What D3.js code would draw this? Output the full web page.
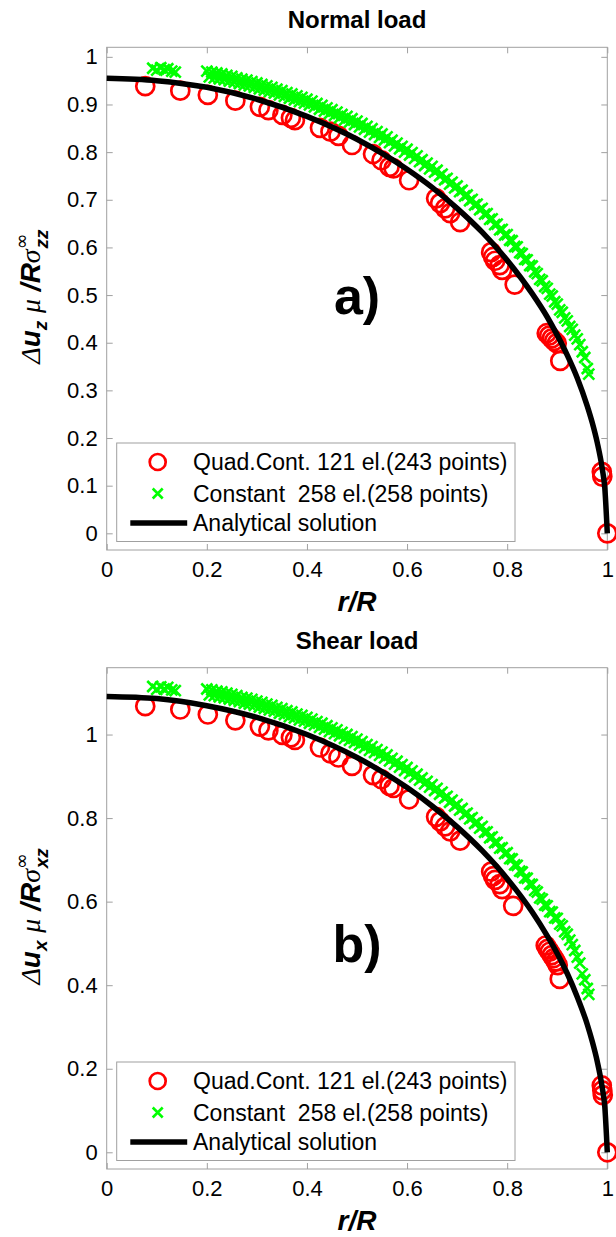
<!DOCTYPE html>
<html><head><meta charset="utf-8">
<script src="https://cdn.jsdelivr.net/npm/d3@7"></script>
<style>
html,body{margin:0;padding:0;background:#fff;}
svg{display:block;font-family:"Liberation Sans",Arial,sans-serif;}
</style></head>
<body>
<svg id="chart" width="616" height="1237"></svg>
<script>
// ---------------- DATA ----------------
const xTicks = [0, 0.2, 0.4, 0.6, 0.8, 1];
const normalYTicks = [0, 0.1, 0.2, 0.3, 0.4, 0.5, 0.6, 0.7, 0.8, 0.9, 1];
const shearYTicks = [0, 0.2, 0.4, 0.6, 0.8, 1];
const legendLabels = ["Quad.Cont. 121 el.(243 points)", "Constant  258 el.(258 points)", "Analytical solution"];
const panelTitles = ["Normal load", "Shear load"];
const panelTags = ["a)", "b)"];

// Analytical solution
const normalAnalytic = [[0,0.955],[0.1,0.950],[0.2,0.936],[0.3,0.911],[0.4,0.875],[0.5,0.827],[0.6,0.764],[0.65,0.726],[0.7,0.682],[0.75,0.632],[0.8,0.573],[0.85,0.503],[0.88,0.454],[0.9,0.416],[0.92,0.374],[0.94,0.326],[0.96,0.267],[0.97,0.232],[0.98,0.190],[0.99,0.135],[0.995,0.095],[1.0,0]];
const shearAnalytic = [[0,1.091],[0.1,1.086],[0.2,1.069],[0.3,1.041],[0.4,1.000],[0.5,0.945],[0.6,0.873],[0.65,0.829],[0.7,0.779],[0.75,0.722],[0.8,0.655],[0.85,0.575],[0.88,0.518],[0.9,0.476],[0.92,0.428],[0.94,0.372],[0.96,0.306],[0.97,0.265],[0.98,0.217],[0.99,0.154],[0.995,0.109],[1.0,0]];

// Quad.Cont. (red circles)
const normalQuad = [[0.077,0.9385],[0.147,0.929],[0.202,0.920],[0.257,0.908],[0.306,0.895],[0.323,0.888],[0.351,0.878],[0.368,0.872],[0.376,0.867],[0.426,0.851],[0.447,0.843],[0.463,0.834],[0.490,0.815],[0.532,0.796],[0.549,0.783],[0.565,0.769],[0.573,0.766],[0.604,0.741],[0.658,0.703],[0.666,0.693],[0.676,0.682],[0.686,0.672],[0.706,0.653],[0.768,0.590],[0.772,0.580],[0.776,0.572],[0.785,0.563],[0.790,0.553],[0.815,0.522],[0.879,0.420],[0.884,0.415],[0.889,0.409],[0.894,0.404],[0.899,0.399],[0.906,0.362],[0.989,0.129],[0.990,0.119],[1.0,0]];
const shearQuad = [[0.077,1.068],[0.147,1.060],[0.202,1.048],[0.257,1.034],[0.306,1.019],[0.323,1.010],[0.351,0.999],[0.368,0.993],[0.376,0.987],[0.426,0.969],[0.447,0.955],[0.463,0.945],[0.490,0.925],[0.532,0.903],[0.549,0.893],[0.565,0.877],[0.573,0.872],[0.604,0.845],[0.658,0.803],[0.666,0.792],[0.676,0.780],[0.686,0.768],[0.706,0.746],[0.768,0.672],[0.772,0.661],[0.776,0.652],[0.785,0.642],[0.790,0.630],[0.812,0.590],[0.877,0.495],[0.881,0.487],[0.885,0.480],[0.889,0.472],[0.893,0.465],[0.897,0.457],[0.901,0.448],[0.905,0.415],[0.989,0.160],[0.990,0.148],[0.991,0.137],[1.0,0]];

// Constant (green crosses)
const normalConst = [[0.092,0.976],[0.100,0.972],[0.108,0.977],[0.115,0.973],[0.122,0.975],[0.130,0.970],[0.137,0.968],
[0.20,0.970],[0.205,0.958],[0.21,0.968],[0.215,0.956],[0.22,0.966],[0.225,0.954],[0.23,0.964],[0.235,0.952],[0.24,0.961],[0.245,0.949],
[0.25,0.959],[0.255,0.947],[0.26,0.956],[0.265,0.944],[0.27,0.953],[0.275,0.941],[0.28,0.951],[0.285,0.939],[0.29,0.948],[0.295,0.936],
[0.30,0.945],[0.305,0.933],[0.31,0.942],[0.315,0.930],[0.32,0.939],[0.325,0.927],[0.33,0.936],[0.335,0.924],[0.34,0.932],[0.345,0.920],
[0.35,0.929],[0.355,0.917],[0.36,0.925],[0.365,0.913],[0.37,0.922],[0.375,0.910],[0.38,0.918],[0.385,0.906],[0.39,0.915],[0.395,0.903],
[0.40,0.911],[0.405,0.899],[0.41,0.907],[0.415,0.895],[0.42,0.902],[0.425,0.890],[0.43,0.898],[0.435,0.886],[0.44,0.893],[0.445,0.881],
[0.45,0.889],[0.455,0.877],[0.46,0.884],[0.465,0.872],[0.47,0.879],[0.475,0.867],[0.48,0.875],[0.485,0.863],[0.49,0.870],[0.495,0.858],
[0.50,0.865],[0.505,0.853],[0.51,0.860],[0.515,0.848],[0.52,0.854],[0.525,0.842],[0.53,0.849],[0.535,0.837],[0.54,0.843],[0.545,0.831],
[0.55,0.838],[0.555,0.826],[0.56,0.832],[0.565,0.820],[0.57,0.825],[0.575,0.813],[0.58,0.819],[0.585,0.807],[0.59,0.812],[0.595,0.800],
[0.60,0.806],[0.605,0.794],[0.61,0.799],[0.615,0.787],[0.62,0.792],[0.625,0.780],[0.63,0.784],[0.635,0.772],[0.64,0.777],[0.645,0.765],
[0.65,0.770],[0.655,0.758],[0.66,0.762],[0.665,0.750],[0.67,0.754],[0.675,0.742],[0.68,0.745],[0.685,0.733],[0.69,0.737],[0.695,0.725],
[0.70,0.729],[0.705,0.717],[0.71,0.720],[0.715,0.708],[0.72,0.710],[0.725,0.698],[0.73,0.701],[0.735,0.689],[0.74,0.691],[0.745,0.679],
[0.75,0.682],[0.755,0.670],[0.76,0.671],[0.765,0.659],[0.77,0.660],[0.775,0.648],[0.78,0.649],[0.785,0.637],[0.79,0.638],[0.795,0.626],
[0.80,0.627],[0.805,0.615],[0.81,0.614],[0.815,0.602],[0.82,0.601],[0.825,0.589],[0.83,0.587],[0.835,0.575],[0.84,0.574],[0.845,0.562],
[0.85,0.561],[0.855,0.549],[0.86,0.545],[0.865,0.533],[0.87,0.530],[0.875,0.518],[0.88,0.514],[0.885,0.502],[0.89,0.498],[0.895,0.486],
[0.90,0.481],[0.905,0.469],[0.91,0.464],[0.915,0.452],[0.92,0.446],[0.925,0.434],[0.93,0.428],[0.935,0.416],[0.94,0.408],[0.945,0.396],
[0.95,0.381],[0.955,0.369],[0.96,0.346],[0.963,0.334]];
const shearConst = [[0.092,1.115],[0.100,1.108],[0.108,1.114],[0.115,1.109],[0.122,1.113],[0.130,1.107],[0.137,1.105],
[0.20,1.109],[0.205,1.095],[0.21,1.107],[0.215,1.093],[0.22,1.104],[0.225,1.090],[0.23,1.102],[0.235,1.088],[0.24,1.099],[0.245,1.085],
[0.25,1.096],[0.255,1.082],[0.26,1.093],[0.265,1.079],[0.27,1.089],[0.275,1.075],[0.28,1.087],[0.285,1.073],[0.29,1.084],[0.295,1.070],
[0.30,1.080],[0.305,1.066],[0.31,1.077],[0.315,1.063],[0.32,1.073],[0.325,1.059],[0.33,1.070],[0.335,1.056],[0.34,1.065],[0.345,1.051],
[0.35,1.062],[0.355,1.048],[0.36,1.057],[0.365,1.043],[0.37,1.054],[0.375,1.040],[0.38,1.049],[0.385,1.035],[0.39,1.046],[0.395,1.032],
[0.40,1.041],[0.405,1.027],[0.41,1.037],[0.415,1.023],[0.42,1.031],[0.425,1.017],[0.43,1.027],[0.435,1.013],[0.44,1.021],[0.445,1.007],
[0.45,1.016],[0.455,1.002],[0.46,1.011],[0.465,0.997],[0.47,1.005],[0.475,0.991],[0.48,1.000],[0.485,0.986],[0.49,0.995],[0.495,0.981],
[0.50,0.989],[0.505,0.975],[0.51,0.983],[0.515,0.969],[0.52,0.976],[0.525,0.962],[0.53,0.971],[0.535,0.957],[0.54,0.964],[0.545,0.950],
[0.55,0.958],[0.555,0.944],[0.56,0.951],[0.565,0.937],[0.57,0.943],[0.575,0.929],[0.58,0.936],[0.585,0.922],[0.59,0.928],[0.595,0.914],
[0.60,0.921],[0.605,0.907],[0.61,0.913],[0.615,0.899],[0.62,0.905],[0.625,0.891],[0.63,0.896],[0.635,0.882],[0.64,0.888],[0.645,0.874],
[0.65,0.880],[0.655,0.866],[0.66,0.871],[0.665,0.857],[0.67,0.862],[0.675,0.848],[0.68,0.852],[0.685,0.838],[0.69,0.843],[0.695,0.829],
[0.70,0.833],[0.705,0.819],[0.71,0.823],[0.715,0.809],[0.72,0.812],[0.725,0.798],[0.73,0.801],[0.735,0.787],[0.74,0.790],[0.745,0.776],
[0.75,0.780],[0.755,0.766],[0.76,0.767],[0.765,0.753],[0.77,0.755],[0.775,0.741],[0.78,0.742],[0.785,0.728],[0.79,0.729],[0.795,0.715],
[0.80,0.717],[0.805,0.703],[0.81,0.702],[0.815,0.688],[0.82,0.687],[0.825,0.673],[0.83,0.671],[0.835,0.657],[0.84,0.656],[0.845,0.642],
[0.85,0.641],[0.855,0.627],[0.86,0.623],[0.865,0.609],[0.87,0.606],[0.875,0.592],[0.88,0.590],[0.885,0.576],[0.89,0.575],[0.895,0.561],
[0.90,0.560],[0.905,0.546],[0.91,0.542],[0.915,0.528],[0.92,0.522],[0.925,0.508],[0.93,0.497],[0.935,0.483],[0.94,0.467],[0.945,0.453],
[0.95,0.427],[0.955,0.413],[0.96,0.392],[0.963,0.378]];

// ---------------- DRAW ----------------
const svg = d3.select("#chart");
const AX = "#a0a0a0";
const RED = "#ff0000", GREEN = "#00ff00";

const panels = [
  {top: 47.3, bottom: 550, yDomain: [-0.035, 1.02], yTicks: normalYTicks, quad: normalQuad, cons: normalConst, ana: normalAnalytic,
   title: panelTitles[0], tag: panelTags[0], comp: "z", sub: "zz"},
  {top: 667.7, bottom: 1169, yDomain: [-0.04, 1.16], yTicks: shearYTicks, quad: shearQuad, cons: shearConst, ana: shearAnalytic,
   title: panelTitles[1], tag: panelTags[1], comp: "x", sub: "xz"}
];
const left = 106.7, right = 607.3;
const fmt = d => d === 0 ? "0" : (d === 1 ? "1" : d3.format(".1f")(d));

function crossPath(cx, cy, s) {
  return `M${cx-s},${cy-s}L${cx+s},${cy+s}M${cx-s},${cy+s}L${cx+s},${cy-s}`;
}

panels.forEach(p => {
  const x = d3.scaleLinear().domain([0, 1]).range([left, right]);
  const y = d3.scaleLinear().domain(p.yDomain).range([p.bottom, p.top]);
  const g = svg.append("g");

  // box
  g.append("rect").attr("x", left).attr("y", p.top).attr("width", right-left).attr("height", p.bottom-p.top)
    .attr("fill", "none").attr("stroke", AX).attr("stroke-width", 1);

  // axes with inward ticks on all four sides
  const axB = g.append("g").attr("transform", `translate(0,${p.bottom})`)
    .call(d3.axisBottom(x).tickValues(xTicks).tickSize(-6).tickPadding(11).tickFormat(fmt));
  const axT = g.append("g").attr("transform", `translate(0,${p.top})`)
    .call(d3.axisTop(x).tickValues(xTicks).tickSize(-6).tickFormat(""));
  const axL = g.append("g").attr("transform", `translate(${left},0)`)
    .call(d3.axisLeft(y).tickValues(p.yTicks).tickSize(-6).tickPadding(9).tickFormat(fmt));
  const axR = g.append("g").attr("transform", `translate(${right},0)`)
    .call(d3.axisRight(y).tickValues(p.yTicks).tickSize(-6).tickFormat(""));
  [axB, axT, axL, axR].forEach(a => {
    a.select(".domain").remove();
    a.selectAll(".tick line").attr("stroke", AX);
    a.selectAll(".tick text").attr("fill", "#000").attr("font-size", 22)
      .attr("font-family", '"Liberation Sans",Arial,sans-serif');
  });
  axB.selectAll(".tick text").attr("dy", "0.71em");

  // title
  g.append("text").attr("x", (left+right)/2).attr("y", p.top - 19).attr("text-anchor", "middle")
    .attr("font-size", 24).attr("font-weight", "bold").text(p.title);

  // x label
  g.append("text").attr("x", (left+right)/2).attr("y", p.bottom + 61).attr("text-anchor", "middle")
    .attr("font-size", 28).attr("font-weight", "bold").attr("font-style", "italic").text("r/R");

  // y label
  const cy = (p.top + p.bottom) / 2;
  const yl = g.append("text").attr("transform", `translate(40,${cy-2}) rotate(-90)`)
    .attr("text-anchor", "middle").attr("font-size", 28).attr("font-weight", "bold").attr("font-style", "italic");
  yl.append("tspan").attr("font-family", '"Liberation Serif",serif').attr("font-weight", "normal").text("Δ");
  yl.append("tspan").text("u");
  yl.append("tspan").attr("font-size", 19).attr("dy", 7).text(p.comp);
  yl.append("tspan").attr("dy", -7).text(" ");
  yl.append("tspan").attr("font-family", '"Liberation Serif",serif').attr("font-weight", "normal").text("μ");
  yl.append("tspan").text(" /R");
  yl.append("tspan").attr("font-family", '"Liberation Serif",serif').attr("font-weight", "normal").text("σ");
  yl.append("tspan").attr("font-size", 19).attr("font-weight", "normal").attr("font-style", "normal")
    .attr("font-family", '"DejaVu Sans",sans-serif').attr("dy", -12).text("∞");
  yl.append("tspan").attr("font-size", 19).attr("dy", 20).attr("dx", -15).text(p.sub);

  // panel tag at data (0.5, 0.5)
  g.append("text").attr("x", x(0.5)).attr("y", y(0.5)).attr("dy", "0.36em")
    .attr("text-anchor", "middle").attr("font-size", 52).attr("font-weight", "bold").text(p.tag);

  // red circles
  g.append("g").selectAll("circle").data(p.quad).join("circle")
    .attr("cx", d => x(d[0])).attr("cy", d => y(d[1])).attr("r", 9)
    .attr("fill", "none").attr("stroke", RED).attr("stroke-width", 2.7);

  // green crosses
  g.append("g").selectAll("path").data(p.cons).join("path")
    .attr("d", d => crossPath(x(d[0]), y(d[1]), 5.5))
    .attr("fill", "none").attr("stroke", GREEN).attr("stroke-width", 2.6);

  // analytical line
  g.append("path").datum(p.ana)
    .attr("d", d3.line().x(d => x(d[0])).y(d => y(d[1])).curve(d3.curveMonotoneX))
    .attr("fill", "none").attr("stroke", "#000").attr("stroke-width", 5.5);

  // legend
  const lx0 = left + 10, ly1 = p.bottom - 8.5, ly0 = p.bottom - 107;
  const lg = g.append("g");
  lg.append("rect").attr("x", lx0).attr("y", ly0).attr("width", 515 - lx0).attr("height", ly1 - ly0)
    .attr("fill", "#fff").attr("stroke", AX).attr("stroke-width", 1);
  const rowY = [ly0 + 19, ly0 + 50.5, ly0 + 80];
  lg.append("circle").attr("cx", 157.7).attr("cy", rowY[0]).attr("r", 8).attr("fill", "none")
    .attr("stroke", RED).attr("stroke-width", 2.7);
  lg.append("path").attr("d", crossPath(157.7, rowY[1], 5)).attr("stroke", GREEN).attr("stroke-width", 2.6);
  lg.append("line").attr("x1", 130.3).attr("x2", 187.2).attr("y1", rowY[2]).attr("y2", rowY[2])
    .attr("stroke", "#000").attr("stroke-width", 5.5);
  legendLabels.forEach((t, i) => {
    lg.append("text").attr("x", 193).attr("y", rowY[i]).attr("dy", "0.35em")
      .attr("font-size", 23).attr("fill", "#000").attr("xml:space", "preserve").style("white-space", "pre").text(t);
  });
});
</script>
</body></html>
